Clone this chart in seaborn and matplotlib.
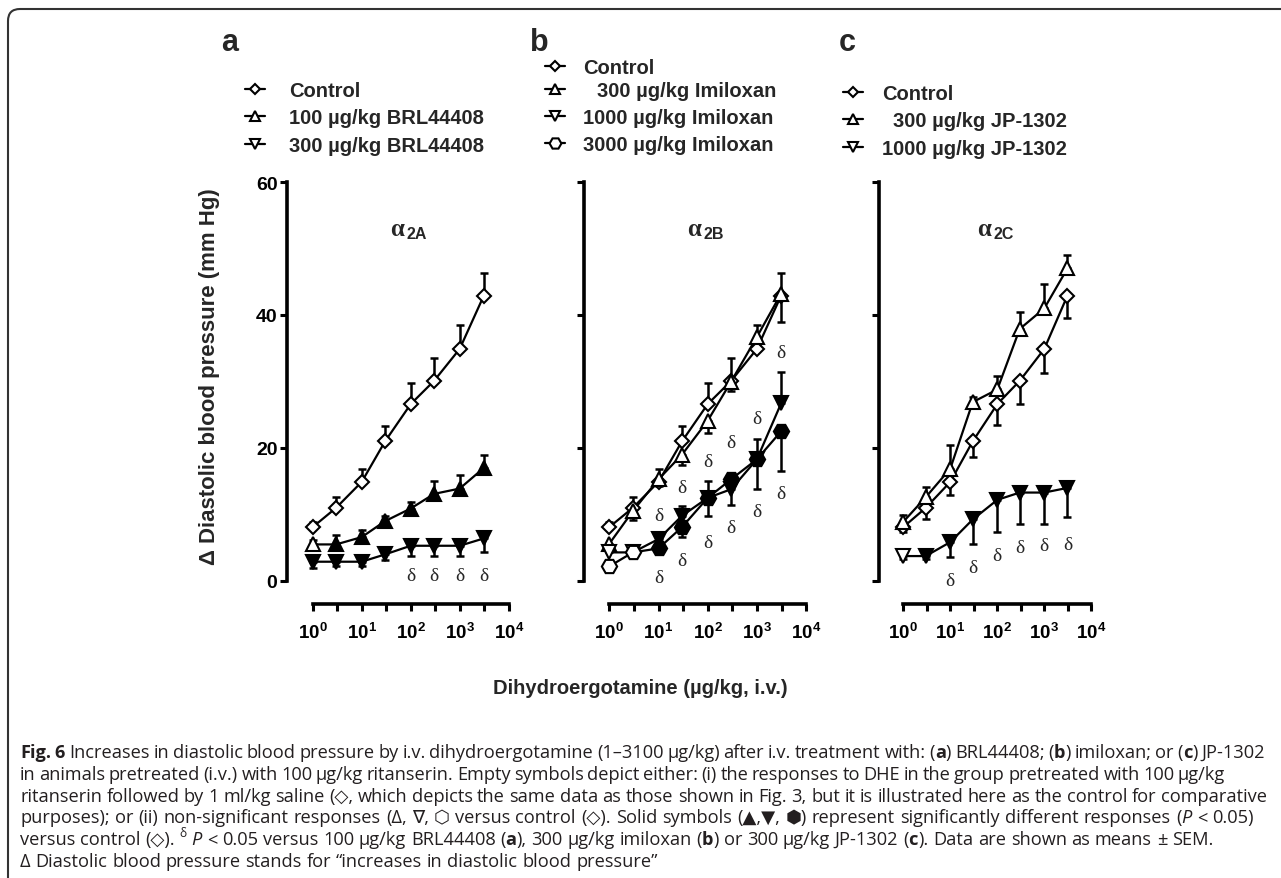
import re
import numpy as np
import matplotlib
matplotlib.use("Agg")
import matplotlib.pyplot as plt
import seaborn as sns
from matplotlib.lines import Line2D
from matplotlib.patches import FancyBboxPatch
from matplotlib.transforms import IdentityTransform
from matplotlib.ticker import FixedLocator, NullFormatter
from matplotlib.font_manager import FontProperties

# ---------------- data ----------------
doses = [1, 3, 10, 30, 100, 300, 1000, 3100]

control_mean = [8.1, 11.0, 14.9, 21.0, 26.6, 30.1, 34.9, 42.9]
control_sem = [0.8, 1.7, 2.0, 2.3, 3.2, 3.5, 3.6, 3.4]
control_filled = [0, 0, 0, 0, 0, 0, 0, 0]

brl100_mean = [5.5, 5.5, 6.6, 9.0, 10.9, 13.1, 13.9, 17.0]
brl100_sem = [0.6, 1.4, 1.0, 0.8, 1.0, 1.9, 2.1, 2.0]
brl100_filled = [0, 1, 1, 1, 1, 1, 1, 1]

brl300_mean = [2.9, 2.9, 2.9, 4.0, 5.3, 5.3, 5.3, 6.4]
brl300_sem = [0.9, 0.6, 0.6, 0.9, 1.5, 1.5, 1.6, 2.1]
brl300_filled = [1, 1, 1, 1, 1, 1, 1, 1]

imi300_mean = [5.6, 10.5, 15.3, 19.0, 24.1, 30.0, 36.7, 43.2]
imi300_sem = [0.8, 1.3, 1.0, 1.5, 1.9, 1.5, 1.2, 4.3]
imi300_filled = [0, 0, 0, 0, 0, 0, 0, 0]

imi1000_mean = [4.3, 4.3, 6.3, 9.8, 12.5, 13.8, 18.3, 26.7]
imi1000_sem = [0.4, 0.5, 0.8, 1.5, 2.5, 1.0, 3.0, 4.8]
imi1000_filled = [0, 0, 1, 1, 1, 1, 1, 1]

imi3000_mean = [2.2, 4.3, 4.9, 8.1, 12.5, 15.3, 18.3, 22.5]
imi3000_sem = [0.3, 0.4, 0.6, 1.5, 2.7, 3.8, 4.5, 6.0]
imi3000_filled = [0, 0, 1, 1, 1, 1, 1, 1]

jp300_mean = [8.9, 12.6, 16.9, 26.9, 28.8, 37.9, 41.0, 47.0]
jp300_sem = [1.0, 1.5, 3.6, 0.8, 2.1, 2.6, 3.6, 2.0]
jp300_filled = [0, 0, 0, 0, 0, 0, 0, 0]

jp1000_mean = [3.75, 3.75, 5.85, 9.25, 12.2, 13.3, 13.3, 14.0]
jp1000_sem = [0.4, 0.4, 2.25, 3.65, 4.85, 4.7, 4.7, 4.4]
jp1000_filled = [0, 1, 1, 1, 1, 1, 1, 1]

delta_a_x = [100, 300, 1000, 3100]
delta_a_y = [0.85, 0.85, 0.85, 0.85]
delta_b_x = [10, 30, 100, 300, 1000, 3100, 10, 30, 100, 300, 1000, 3100]
delta_b_y = [9.8, 14.1, 18.0, 20.8, 24.5, 34.3, 0.6, 3.1, 5.8, 8.0, 10.5, 13.2]
delta_c_x = [10, 30, 100, 300, 1000, 3100]
delta_c_y = [0.1, 2.1, 3.85, 5.1, 5.35, 5.45]

panel_letters = ["a", "b", "c"]
receptor_subs = ["2A", "2B", "2C"]
legend_a = ["Control", "100 µg/kg BRL44408", "300 µg/kg BRL44408"]
legend_b = ["Control", "300 µg/kg Imiloxan", "1000 µg/kg Imiloxan", "3000 µg/kg Imiloxan"]
legend_c = ["Control", "300 µg/kg JP-1302", "1000 µg/kg JP-1302"]
y_ticks = [0, 20, 40, 60]
x_tick_exps = [0, 1, 2, 3, 4]
y_label = "Δ Diastolic blood pressure (mm Hg)"
x_label = "Dihydroergotamine (µg/kg, i.v.)"

caption_lines = [
    [("Fig. 6", "b"), (" Increases in diastolic blood pressure by i.v. dihydroergotamine (1–3100 µg/kg) after i.v. treatment with: (", "n"),
     ("a", "b"), (") BRL44408; (", "n"), ("b", "b"), (") imiloxan; or (", "n"), ("c", "b"), (") JP-1302", "n")],
    [("in animals pretreated (i.v.) with 100 µg/kg ritanserin. Empty symbols depict either: (i) the responses to DHE in the group pretreated with 100 µg/kg", "n")],
    [("ritanserin followed by 1 ml/kg saline (◇, which depicts the same data as those shown in Fig. 3, but it is illustrated here as the control for comparative", "n")],
    [("purposes); or (ii) non-significant responses (Δ, ∇, ⬡ versus control (◇). Solid symbols (▲,▼, ⬢) represent significantly different responses (", "n"),
     ("P", "i"), (" < 0.05)", "n")],
    [("versus control (◇). ", "n"), ("δ", "sup"), (" ", "n"), ("P", "i"), (" < 0.05 versus 100 µg/kg BRL44408 (", "n"), ("a", "b"),
     ("), 300 µg/kg imiloxan (", "n"), ("b", "b"), (") or 300 µg/kg JP-1302 (", "n"), ("c", "b"), ("). Data are shown as means ± SEM.", "n")],
    [("Δ Diastolic blood pressure stands for “increases in diastolic blood pressure”", "n")],
]

# ---------------- style ----------------
sns.set_theme(style="ticks")
plt.rcParams["font.family"] = ["Liberation Sans", "DejaVu Sans"]
plt.rcParams["mathtext.fontset"] = "custom"
plt.rcParams["mathtext.rm"] = "Liberation Sans:bold"
plt.rcParams["mathtext.bf"] = "Liberation Sans:bold"
plt.rcParams["mathtext.sf"] = "Liberation Sans:bold"
plt.rcParams["mathtext.it"] = "Liberation Sans:bold:italic"

W, H = 1281, 879
fig = plt.figure(figsize=(W / 100, H / 100), dpi=100)
fig.patch.set_facecolor("white")


def fx(px):
    return px / W


def fy(py):
    return 1 - py / H


LOGMIN, LOGMAX = -0.52, 4.08
Y_BOT, Y_TOP = -3.46, 62.0
Y0PX, PPU = 582.0, 6.65
panel_geo = [(312.7, 49.0), (609.3, 49.2), (903.3, 47.0)]

panels = [
    [(control_mean, control_sem, control_filled, "D", 6.8, "up"),
     (brl100_mean, brl100_sem, brl100_filled, "^", 10, "up"),
     (brl300_mean, brl300_sem, brl300_filled, "v", 10, "down")],
    [(control_mean, control_sem, control_filled, "D", 6.8, "up"),
     (imi300_mean, imi300_sem, imi300_filled, "^", 10, "down"),
     (imi1000_mean, imi1000_sem, imi1000_filled, "v", 10, "up"),
     (imi3000_mean, imi3000_sem, imi3000_filled, "H", 11, "down")],
    [(control_mean, control_sem, control_filled, "D", 6.8, "down"),
     (jp300_mean, jp300_sem, jp300_filled, "^", 10, "up"),
     (jp1000_mean, jp1000_sem, jp1000_filled, "v", 10, "down")],
]
deltas = [(delta_a_x, delta_a_y), (delta_b_x, delta_b_y), (delta_c_x, delta_c_y)]

top_px = Y0PX - Y_TOP * PPU
bot_px = Y0PX - Y_BOT * PPU
x = np.array(doses, dtype=float)

for i, ((x0, ppd), series) in enumerate(zip(panel_geo, panels)):
    left = x0 + LOGMIN * ppd
    width = (LOGMAX - LOGMIN) * ppd
    ax = fig.add_axes([fx(left), fy(bot_px), width / W, (bot_px - top_px) / H])
    ax.patch.set_alpha(0)
    ax.set_xscale("log")
    for mean, sem, filled, mk, ms, direction in series:
        m = np.array(mean, dtype=float)
        e = np.array(sem, dtype=float)
        z = np.zeros_like(e)
        yerr = [z, e] if direction == "up" else [e, z]
        ax.errorbar(x, m, yerr=yerr, fmt="none", ecolor="black", elinewidth=1.8,
                    capsize=3.0, capthick=1.8, zorder=2)
        sns.lineplot(x=x, y=m, ax=ax, color="black", linewidth=1.6,
                     estimator=None, sort=False, zorder=3)
        f = np.array(filled, dtype=bool)
        ax.plot(x[f], m[f], ls="none", marker=mk, ms=ms, mfc="black", mec="black", mew=1.5, zorder=4)
        ax.plot(x[~f], m[~f], ls="none", marker=mk, ms=ms, mfc="white", mec="black", mew=1.5, zorder=4)

    dx, dy = deltas[i]
    for xx, yy in zip(dx, dy):
        ax.text(xx, yy, "δ", family="Liberation Serif", fontsize=14, ha="center", va="center")

    ax.set_xlim(10 ** LOGMIN, 10 ** LOGMAX)
    ax.set_ylim(Y_BOT, Y_TOP)
    sns.despine(ax=ax)
    ax.spines["left"].set_bounds(0, 60)
    ax.spines["bottom"].set_bounds(1, 1e4)
    for sp in ["left", "bottom"]:
        ax.spines[sp].set_linewidth(2.6)
        ax.spines[sp].set_color("black")
    ax.set_yticks(y_ticks)
    ax.set_xticks([10.0 ** k for k in x_tick_exps])
    ax.xaxis.set_minor_locator(FixedLocator([10 ** (k + 0.5) for k in range(4)]))
    ax.xaxis.set_minor_formatter(NullFormatter())
    ax.set_xticklabels([r"$\mathbf{10^{%d}}$" % k for k in x_tick_exps], fontsize=13.5)
    if i == 0:
        ax.set_yticklabels([str(v) for v in y_ticks], fontsize=14, fontweight="bold")
    else:
        ax.tick_params(axis="y", labelleft=False)
    ax.tick_params(axis="both", which="both", direction="out", length=5, width=2.2,
                   color="black", bottom=True, left=True, labelcolor="black")
    ax.tick_params(axis="x", which="major", pad=8)
    ax.tick_params(axis="y", pad=2)
    ax.set_xlabel("")
    ax.set_ylabel("")
    ax.grid(False)

    # receptor label
    ax.text(10 ** 1.73, 53, "α", family="Liberation Serif", fontweight="bold", fontsize=18,
            ha="center", va="center")
    ax.annotate(receptor_subs[i], xy=(10 ** 1.73, 53), xytext=(6.5, -3.5), textcoords="offset points",
                ha="left", va="center", fontsize=11.5, fontweight="bold")

# ---------------- legends ----------------
leg_specs = [
    (legend_a, ["D", "^", "v"], 255, [289, 289, 289], [90, 117, 145]),
    (legend_b, ["D", "^", "v", "H"], 555, [583, 597, 583, 583], [67, 90, 117, 144]),
    (legend_c, ["D", "^", "v"], 853, [882, 893, 882], [93, 120, 148]),
]
leg_ms = {"D": 5.2, "^": 7.8, "v": 7.8, "H": 8.5}
for labels, mks, xm, xts, ys in leg_specs:
    for lab, mk, xt, yy in zip(labels, mks, xts, ys):
        fig.add_artist(Line2D([fx(xm - 10), fx(xm + 10)], [fy(yy), fy(yy)], color="black", lw=1.6,
                              transform=fig.transFigure))
        fig.add_artist(Line2D([fx(xm)], [fy(yy)], ls="none", marker=mk, ms=leg_ms[mk], mfc="white",
                              mec="black", mew=1.5, transform=fig.transFigure))
        fig.text(fx(xt), fy(yy + 7.2), lab, ha="left", va="baseline", fontsize=14.5, fontweight="bold")

# panel letters
for lt, xc in zip(panel_letters, [230, 539, 847]):
    fig.text(fx(xc), fy(51), lt, ha="center", va="baseline", fontsize=22, fontweight="bold")

# axis titles
fig.text(fx(210), fy(377), y_label, rotation=90, ha="center", va="center", fontsize=16, fontweight="bold")
fig.text(fx(640), fy(688), x_label, ha="center", va="center", fontsize=14.5, fontweight="bold")

# ---------------- caption ----------------
renderer = fig.canvas.get_renderer()
cap_family = ["Open Sans", "DejaVu Sans"]
cap_color = "#231f20"


def fprop(style, size):
    if style == "sup":
        size = size * 0.65
    return FontProperties(family=cap_family, size=size,
                          weight="bold" if style == "b" else "normal",
                          style="italic" if style == "i" else "normal")


def twidth(s, prop):
    a = renderer.get_text_width_height_descent(s + "|", prop, ismath=False)[0]
    b = renderer.get_text_width_height_descent("|", prop, ismath=False)[0]
    return a - b


def tokens(line):
    out = []
    for text, style in line:
        for piece in re.split(r"( )", text):
            if piece:
                out.append((piece, style))
    return out


def natural_width(line, fs):
    return sum(twidth(p, fprop(s, fs)) for p, s in tokens(line))


fs_probe = 10.0
fs = fs_probe * 1193.0 / natural_width(caption_lines[4], fs_probe)

targets = [1245, 1205, 1247, 1234, None, None]
cap_x0 = 20
cap_base0 = 758
cap_step = 21.8
for li, line in enumerate(caption_lines):
    toks = tokens(line)
    nat = natural_width(line, fs)
    nsp = sum(1 for p, s in toks if p == " ")
    extra = 0.0
    if targets[li] is not None and nsp:
        extra = (targets[li] - nat) / nsp
    xx = cap_x0
    base = cap_base0 + li * cap_step
    for p, s in toks:
        prop = fprop(s, fs)
        w = twidth(p, prop)
        if p == " ":
            xx += w + extra
            continue
        yb = base - (fs * 0.45 * 100 / 72 if s == "sup" else 0)
        fig.text(fx(xx), fy(yb), p, fontproperties=prop, color=cap_color, ha="left", va="baseline")
        xx += w

# ---------------- frame ----------------
fig.add_artist(FancyBboxPatch((8, -60), 1400, H - 10 + 60, boxstyle="round,pad=0,rounding_size=12",
                              transform=IdentityTransform(), fill=False, edgecolor="#333333", linewidth=1.5))

fig.savefig("out.png", dpi=100, facecolor="white")
